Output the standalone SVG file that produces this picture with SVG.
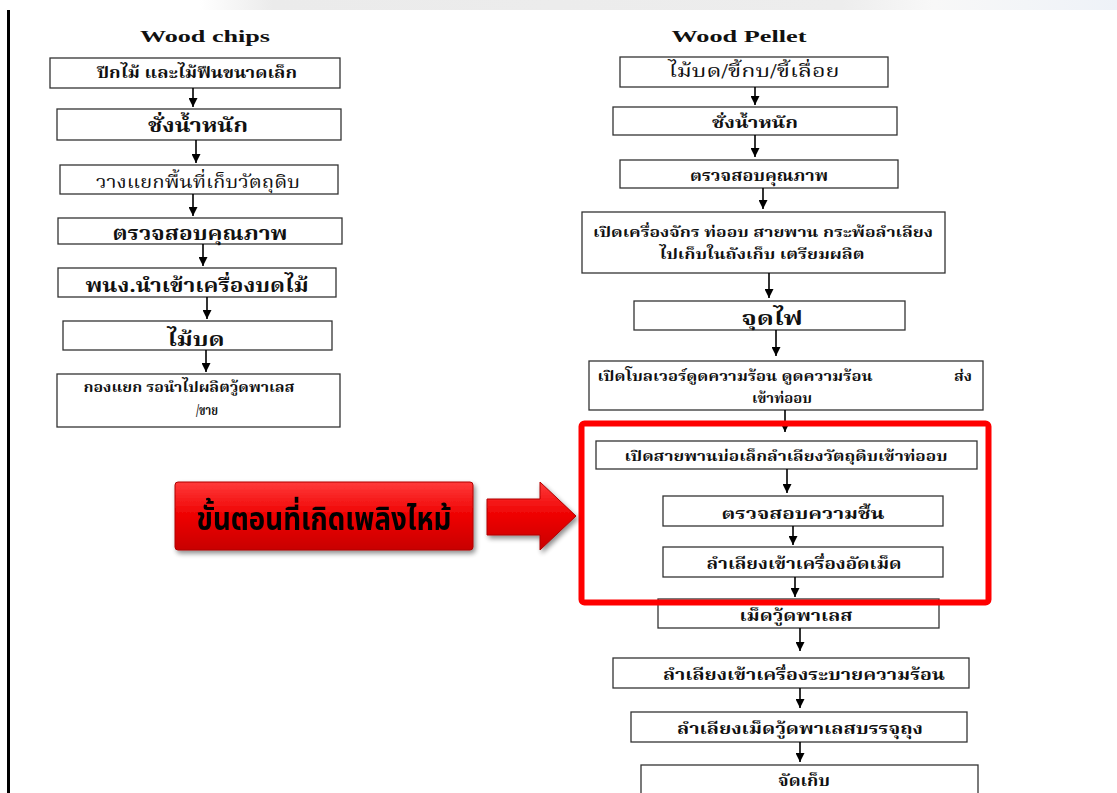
<svg xmlns="http://www.w3.org/2000/svg" width="1117" height="793" viewBox="0 0 1117 793">
<defs>
<marker id="ah" viewBox="0 0 10 10" refX="10" refY="5" markerWidth="9" markerHeight="9" markerUnits="userSpaceOnUse" orient="auto">
<path d="M0,0 L10,5 L0,10 z" fill="#000"/>
</marker>
<linearGradient id="band" x1="0" y1="0" x2="1" y2="0">
<stop offset="0" stop-color="#ffffff"/>
<stop offset="0.08" stop-color="#ebebeb"/>
<stop offset="0.7" stop-color="#ededed"/>
<stop offset="0.8" stop-color="#f8f8f8"/>
<stop offset="1" stop-color="#eef2f8"/>
</linearGradient>
<linearGradient id="redg" x1="0" y1="0" x2="0" y2="1">
<stop offset="0" stop-color="#ff3b3b"/>
<stop offset="0.5" stop-color="#ee0000"/>
<stop offset="1" stop-color="#c80000"/>
</linearGradient>
<filter id="sh" x="-10%" y="-20%" width="130%" height="150%">
<feGaussianBlur in="SourceAlpha" stdDeviation="2.5"/>
<feOffset dx="2" dy="3" result="b"/>
<feComponentTransfer><feFuncA type="linear" slope="0.45"/></feComponentTransfer>
<feMerge><feMergeNode/><feMergeNode in="SourceGraphic"/></feMerge>
</filter>
<style>
.box{fill:#fff;stroke:#333;stroke-width:1.3}
.t{font-family:"Noto Serif Thai","Noto Sans Thai Looped","Noto Sans Thai","Noto Sans","DejaVu Sans",sans-serif;fill:#111;text-anchor:middle}
.b{font-weight:bold}
.h{font-family:"Liberation Serif",serif;font-weight:bold;font-size:17px;fill:#111;text-anchor:middle}
.c line{stroke:#000;stroke-width:1.6;marker-end:url(#ah)}
.ct{font-family:"Noto Sans Thai","Noto Sans",sans-serif;font-weight:bold;font-size:32px;fill:#000;text-anchor:middle}
</style>
</defs>
<rect x="0" y="0" width="1117" height="793" fill="#fff"/>
<rect x="200" y="0" width="917" height="10" fill="url(#band)"/>
<line x1="8.5" y1="10" x2="8.5" y2="793" stroke="#000" stroke-width="3"/>

<text class="h" x="205" y="42" textLength="130" lengthAdjust="spacingAndGlyphs">Wood chips</text>
<text class="h" x="739" y="42" textLength="135" lengthAdjust="spacingAndGlyphs">Wood Pellet</text>

<g id="L1"><rect class="box" x="50" y="58" width="290" height="30"/><text class="t b" x="197" y="78" font-size="15" textLength="200" lengthAdjust="spacingAndGlyphs">ปีกไม้ และไม้ฟืนขนาดเล็ก</text></g>
<g id="L2"><rect class="box" x="57" y="109" width="284" height="31"/><text class="t b" x="198" y="132" font-size="19" textLength="100" lengthAdjust="spacingAndGlyphs">ชั่งน้ำหนัก</text></g>
<g id="L3"><rect class="box" x="60" y="165" width="278" height="29"/><text class="t" x="198" y="188" font-size="18" textLength="204" lengthAdjust="spacingAndGlyphs">วางแยกพื้นที่เก็บวัตถุดิบ</text></g>
<g id="L4"><rect class="box" x="58" y="218" width="284" height="26"/><text class="t b" x="200" y="240" font-size="19" textLength="175" lengthAdjust="spacingAndGlyphs">ตรวจสอบคุณภาพ</text></g>
<g id="L5"><rect class="box" x="58" y="268" width="278" height="29"/><text class="t b" x="197" y="292" font-size="19" textLength="223" lengthAdjust="spacingAndGlyphs">พนง.นำเข้าเครื่องบดไม้</text></g>
<g id="L6"><rect class="box" x="63" y="321" width="269" height="29"/><text class="t b" x="196" y="346" font-size="19" textLength="57" lengthAdjust="spacingAndGlyphs">ไม้บด</text></g>
<g id="L7"><rect class="box" x="57" y="374" width="283" height="53"/><text class="t b" x="189" y="392" font-size="14" textLength="211" lengthAdjust="spacingAndGlyphs">กองแยก รอนำไปผลิตวู้ดพาเลส</text><text class="t b" x="207" y="415" font-size="14" textLength="22" lengthAdjust="spacingAndGlyphs">/ขาย</text></g>

<g id="R1"><rect class="box" x="620" y="57" width="268" height="30"/><text class="t" x="754" y="77" font-size="17" textLength="171" lengthAdjust="spacingAndGlyphs">ไม้บด/ขี้กบ/ขี้เลื่อย</text></g>
<g id="R2"><rect class="box" x="613" y="107" width="284" height="28"/><text class="t b" x="755" y="128" font-size="15" textLength="86" lengthAdjust="spacingAndGlyphs">ชั่งน้ำหนัก</text></g>
<g id="R3"><rect class="box" x="620" y="160" width="278" height="28"/><text class="t b" x="759" y="181" font-size="15" textLength="138" lengthAdjust="spacingAndGlyphs">ตรวจสอบคุณภาพ</text></g>
<g id="R4"><rect class="box" x="582" y="212" width="363" height="61"/><text class="t b" x="763" y="237" font-size="14" textLength="340" lengthAdjust="spacingAndGlyphs">เปิดเครื่องจักร ท่ออบ สายพาน กระพ้อลำเลียง</text><text class="t b" x="762" y="259" font-size="14" textLength="205" lengthAdjust="spacingAndGlyphs">ไปเก็บในถังเก็บ เตรียมผลิต</text></g>
<g id="R5"><rect class="box" x="634" y="301" width="271" height="29"/><text class="t b" x="772" y="325" font-size="19" textLength="61" lengthAdjust="spacingAndGlyphs">จุดไฟ</text></g>
<g id="R6"><rect class="box" x="589" y="361" width="394" height="49"/><text class="t b" x="735" y="381" font-size="14" textLength="275" lengthAdjust="spacingAndGlyphs">เปิดโบลเวอร์ดูดความร้อน ดูดความร้อน</text><text class="t b" x="963" y="381" font-size="14" textLength="18" lengthAdjust="spacingAndGlyphs">ส่ง</text><text class="t b" x="782" y="403" font-size="14" textLength="60" lengthAdjust="spacingAndGlyphs">เข้าท่ออบ</text></g>
<g id="R7"><rect class="box" x="596" y="441" width="381" height="28"/><text class="t b" x="786" y="461" font-size="14" textLength="323" lengthAdjust="spacingAndGlyphs">เปิดสายพานบ่อเล็กลำเลียงวัตถุดิบเข้าท่ออบ</text></g>
<g id="R8"><rect class="box" x="663" y="496" width="280" height="30"/><text class="t b" x="803" y="519" font-size="15" textLength="163" lengthAdjust="spacingAndGlyphs">ตรวจสอบความชื้น</text></g>
<g id="R9"><rect class="box" x="663" y="547" width="280" height="30"/><text class="t b" x="804" y="569" font-size="15" textLength="195" lengthAdjust="spacingAndGlyphs">ลำเลียงเข้าเครื่องอัดเม็ด</text></g>
<g id="R10"><rect class="box" x="658" y="599" width="281" height="29"/><text class="t b" x="796" y="621" font-size="15" textLength="113" lengthAdjust="spacingAndGlyphs">เม็ดวู้ดพาเลส</text></g>
<g id="R11"><rect class="box" x="613" y="658" width="356" height="30"/><text class="t b" x="804" y="680" font-size="15" textLength="282" lengthAdjust="spacingAndGlyphs">ลำเลียงเข้าเครื่องระบายความร้อน</text></g>
<g id="R12"><rect class="box" x="631" y="712" width="336" height="30"/><text class="t b" x="800" y="734" font-size="15" textLength="246" lengthAdjust="spacingAndGlyphs">ลำเลียงเม็ดวู้ดพาเลสบรรจุถุง</text></g>
<g id="R13"><rect class="box" x="641" y="765" width="337" height="40"/><text class="t b" x="804" y="786" font-size="15" textLength="52" lengthAdjust="spacingAndGlyphs">จัดเก็บ</text></g>

<g id="connectors" class="c">
<line x1="193" y1="88" x2="193" y2="107"/>
<line x1="196" y1="140" x2="196" y2="163"/>
<line x1="193" y1="194" x2="193" y2="216"/>
<line x1="203" y1="244" x2="203" y2="266"/>
<line x1="207" y1="297" x2="207" y2="319"/>
<line x1="206" y1="350" x2="206" y2="372"/>
<line x1="755" y1="87" x2="755" y2="105"/>
<line x1="755" y1="135" x2="755" y2="157"/>
<line x1="763" y1="188" x2="763" y2="209"/>
<line x1="769" y1="273" x2="769" y2="298"/>
<line x1="776" y1="330" x2="776" y2="356"/>
<line x1="785" y1="410" x2="785" y2="432"/>
<line x1="787" y1="469" x2="787" y2="493"/>
<line x1="793" y1="526" x2="793" y2="545"/>
<line x1="795" y1="577" x2="795" y2="597"/>
<line x1="800" y1="628" x2="800" y2="651"/>
<line x1="800" y1="688" x2="800" y2="708"/>
<line x1="800" y1="742" x2="800" y2="762"/>
</g>

<g id="highlight">
<rect x="581.5" y="423.5" width="407" height="179" rx="3" fill="none" stroke="#ff0000" stroke-width="6"/>
</g>

<g id="callout" filter="url(#sh)">
<rect x="175" y="482" width="298" height="68" rx="3" fill="url(#redg)" stroke="#b00000" stroke-width="1"/>
<text class="ct" x="324" y="530" textLength="255" lengthAdjust="spacingAndGlyphs">ขั้นตอนที่เกิดเพลิงไหม้</text>
</g>
<g id="callout-arrow" filter="url(#sh)">
<path d="M487,499 L540,499 L540,482 L576,516 L540,550 L540,535 L487,535 Z" fill="url(#redg)" stroke="#b00000" stroke-width="1"/>
</g>
</svg>
